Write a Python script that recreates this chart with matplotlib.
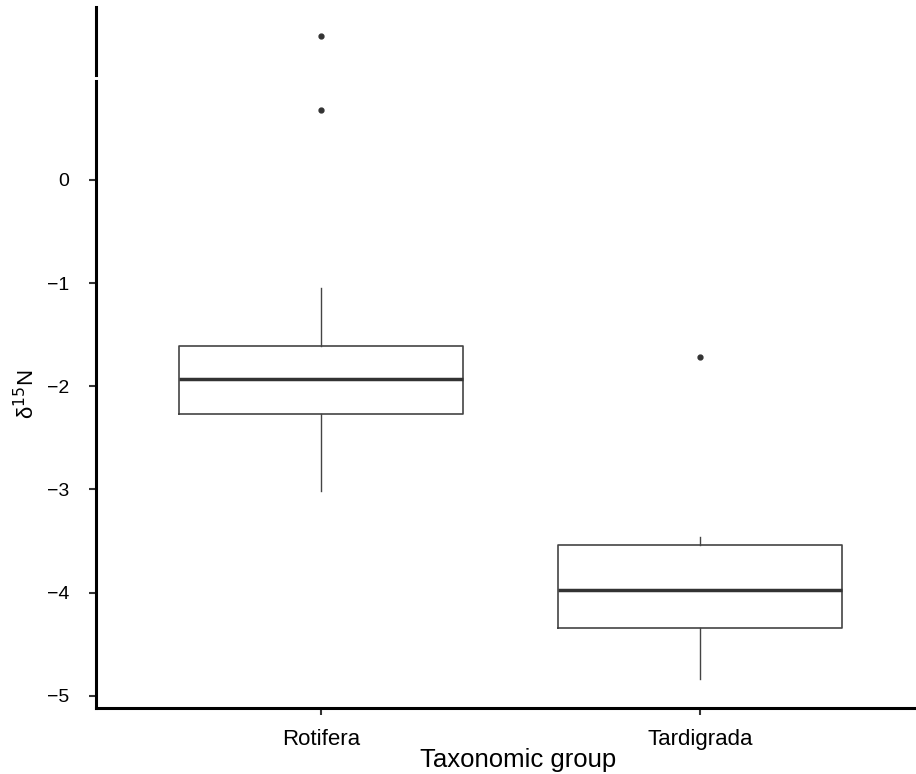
import matplotlib
matplotlib.use('Agg')
import matplotlib.pyplot as plt

plt.rcParams['font.family'] = ['Liberation Sans', 'DejaVu Sans']

groups = ['Rotifera', 'Tardigrada']
whislo = [-3.02, -4.84]
q1 = [-2.27, -4.34]
med = [-1.93, -3.98]
q3 = [-1.61, -3.54]
whishi = [-1.05, -3.46]
fliers = [[0.68], [-1.72]]
# value above the axis break (true value not shown on the scale)
flier_high = [[1.40], []]

stats = []
for i, g in enumerate(groups):
    stats.append(dict(label=g, whislo=whislo[i], q1=q1[i], med=med[i],
                      q3=q3[i], whishi=whishi[i],
                      fliers=fliers[i] + flier_high[i]))

fig = plt.figure(figsize=(9.16, 7.74), dpi=100)
W, H = 916.0, 774.0
# lower (main) axes and the small top part above the break
ax = fig.add_axes([96 / W, (H - 708) / H, (916 - 96) / W, (708 - 81) / H])
axt = fig.add_axes([96 / W, (H - 75) / H, (916 - 96) / W, (75 - 7) / H])

style = dict(boxprops=dict(color='#444444', linewidth=1.2),
             medianprops=dict(color='#333333', linewidth=2.5),
             whiskerprops=dict(color='#444444', linewidth=1.0),
             capprops=dict(linewidth=0),
             flierprops=dict(marker='o', markersize=3.5,
                             markerfacecolor='#333333',
                             markeredgecolor='#333333'))

for a in (ax, axt):
    a.bxp(stats, positions=[1, 2], widths=0.75, showcaps=False, **style)
    a.set_xlim(0.405, 2.57)
    for s in ('top', 'right'):
        a.spines[s].set_visible(False)
    a.spines['left'].set_linewidth(2.2)

ax.set_ylim(-5.12, 0.96)
axt.set_ylim(1.02, 1.68)

ax.set_yticks([0, -1, -2, -3, -4, -5])
ax.set_yticklabels(['0', '\u22121', '\u22122', '\u22123', '\u22124', '\u22125'])
ax.spines['bottom'].set_linewidth(2.2)
ax.tick_params(axis='y', labelsize=14, length=5, width=1.5,
               color='#333333', pad=14)
ax.tick_params(axis='x', labelsize=16, length=5, width=1.5,
               color='#333333', pad=10)
ax.set_xticks([1, 2])
ax.set_xticklabels(groups)
ax.set_xlabel('Taxonomic group', fontsize=18.5, labelpad=0)
ax.xaxis.set_label_coords(0.515, -0.064)
ax.set_ylabel('\u03b4$^{15}$N', fontsize=16)
ax.yaxis.set_label_coords(-0.069, 0.5)

axt.spines['bottom'].set_visible(False)
axt.set_xticks([])
axt.set_yticks([])

fig.savefig('out.png', dpi=100)
